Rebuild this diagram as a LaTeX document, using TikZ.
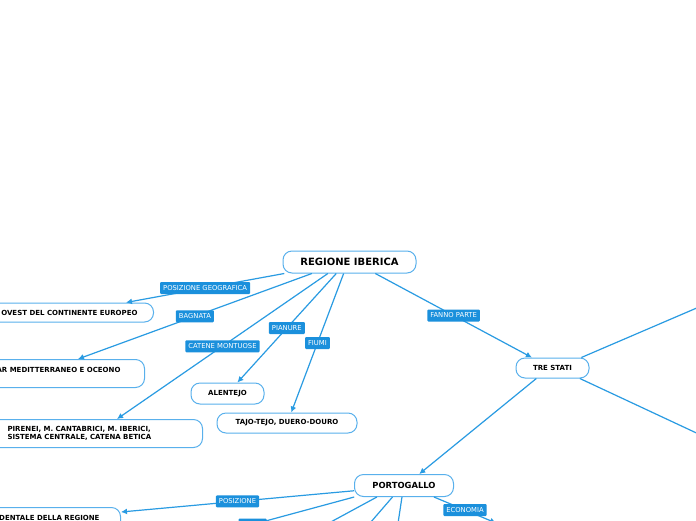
\documentclass[tikz,border=0pt]{standalone}
\usepackage{fontspec}
\setmainfont{DejaVu Sans}
\usepackage{tikz}
\usetikzlibrary{arrows.meta,positioning,calc}
\definecolor{wire}{HTML}{299BE2}
\definecolor{tagfill}{HTML}{1B90DC}
\definecolor{rim}{HTML}{59B0EC}

\begin{document}
\begin{tikzpicture}[x=1pt, y=-1pt,
  topic/.style={draw=rim, fill=white, line width=1pt, rounded corners=9pt,
                inner sep=0pt, align=left,
                font=\bfseries\fontsize{7}{8}\selectfont},
  root/.style={topic, font=\bfseries\fontsize{10}{12}\selectfont},
  lbl/.style={fill=tagfill, text=white, rounded corners=1pt, midway,
              inner xsep=3pt, inner ysep=0pt, minimum height=12pt,
              font=\fontsize{6.8}{8}\selectfont},
  link/.style={draw=wire, line width=1.2pt},
  arr/.style={link, -{Latex[length=6pt,width=6pt]}}
]
  \useasboundingbox (0,0) rectangle (696,520);
  \fill[white] (0,0) rectangle (696,520);
  \clip (0,0) rectangle (696,520);

  % main topic and its branches
  \node[root, minimum width=133pt, minimum height=22pt] (ri) at (349.5,262) {REGIONE IBERICA};

  \node[topic, anchor=east, inner xsep=16pt, minimum height=19pt] (ovest) at (154,312.5)
    {OVEST DEL CONTINENTE EUROPEO};
  \node[topic, anchor=north east, inner xsep=24pt, minimum height=28pt] (mar) at (145,359)
    {AR MEDITTERRANEO E OCEONO\\\mbox{}};
  \node[topic, anchor=north east, inner xsep=18pt, text width=177pt, minimum height=28pt] (pir) at (203,419)
    {PIRENEI, M. CANTABRICI, M. IBERICI,\\ SISTEMA CENTRALE, CATENA BETICA};
  \node[topic, align=center, minimum width=73pt, minimum height=21pt] (alen) at (227.5,393.5) {ALENTEJO};
  \node[topic, align=center, minimum width=140pt, minimum height=20pt] (tajo) at (287,423) {TAJO-TEJO, DUERO-DOURO};
  \node[topic, align=center, minimum width=73pt, minimum height=20pt] (tre) at (552.5,368) {TRE STATI};

  \draw[arr] (ri.-170) -- node[lbl]{POSIZIONE GEOGRAFICA} ([xshift=-28pt]ovest.north east);
  \draw[arr] (ri.-163) -- node[lbl]{BAGNATA} ([xshift=-67pt]mar.north east);
  \draw[arr] (ri.-152) -- node[lbl]{CATENE MONTUOSE} ([xshift=-86pt]pir.north east);
  \draw[arr] (ri.-139) -- node[lbl]{PIANURE} (alen.48);
  \draw[arr] (ri.-117) -- node[lbl]{FIUMI} (tajo.68);
  \draw[arr] (ri.-24) -- node[lbl]{FANNO PARTE} (tre.153);

  % the three states
  \node[topic, font=\bfseries\fontsize{8.4}{10}\selectfont, align=center,
        minimum width=99pt, minimum height=22pt] (porto) at (404,485.5) {PORTOGALLO};
  \node[topic, anchor=north east, inner xsep=21pt, minimum height=28pt] (occ) at (121,507)
    {DENTALE DELLA REGIONE\\\mbox{}};

  \coordinate (tsne) at (720,298);
  \coordinate (tsse) at (720,444);
  \draw[link] (tre.20) -- (tsne);
  \draw[link] (tre.-21) -- (tsse);
  \draw[arr] (tre.-147) -- (porto.37);

  \coordinate (pa) at (151,552);
  \coordinate (pb) at (316,530);
  \coordinate (pc) at (364,530);
  \coordinate (pd) at (397,530);
  \coordinate (pe) at (496,523);
  \draw[arr] (porto.-174) -- node[lbl]{POSIZIONE} ([yshift=-5pt]occ.north east);
  \draw[link] (porto.-167) -- node[lbl, minimum width=28pt]{} (pa);
  \draw[link] (porto.-157) -- (pb);
  \draw[link] (porto.-135) -- (pc);
  \draw[link] (porto.-100) -- (pd);
  \draw[arr] (porto.-21) -- node[lbl]{ECONOMIA} (pe);
\end{tikzpicture}
\end{document}
